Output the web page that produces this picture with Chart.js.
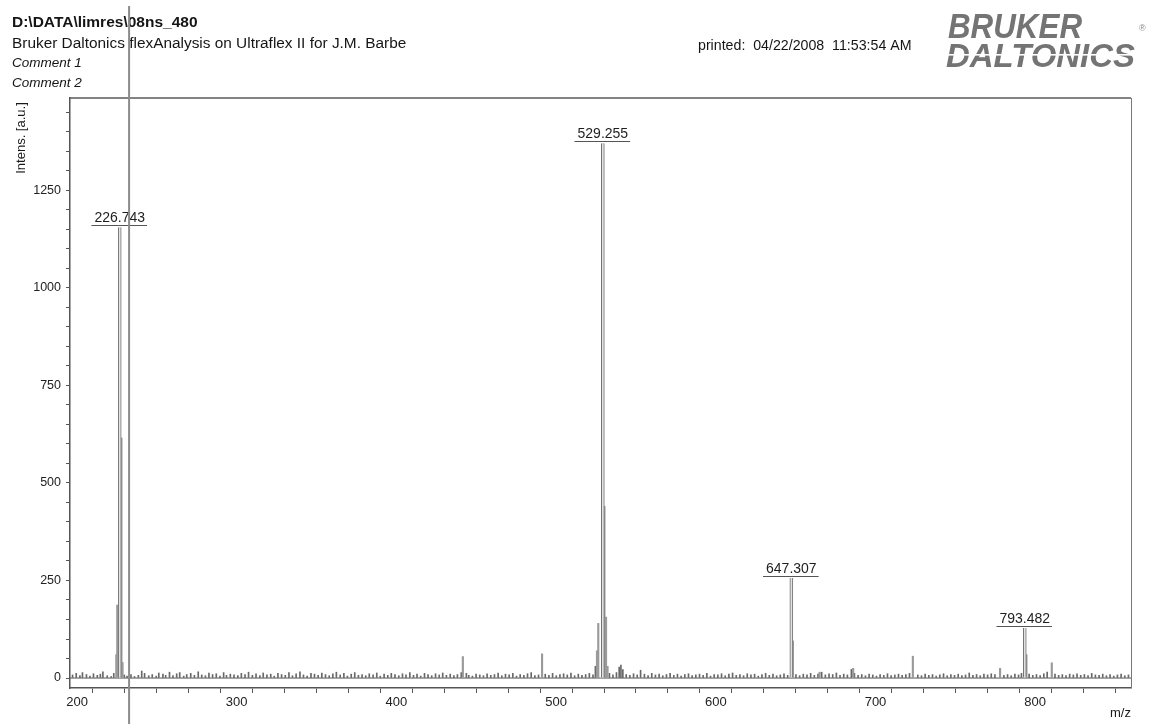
<!DOCTYPE html>
<html>
<head>
<meta charset="utf-8">
<title>08ns_480 mass spectrum</title>
<script src="https://cdn.jsdelivr.net/npm/chart.js@4.4.1/dist/chart.umd.min.js"></script>
<style>
  html, body { margin: 0; padding: 0; background: #ffffff; }
  #wrap { width: 1151px; height: 724px; position: relative; }
  canvas { display: block; }
</style>
</head>
<body>
<div id="wrap"><canvas id="spec" width="1151" height="724"></canvas></div>
<script>
// ---- spectrum data (m/z, intensity in a.u.) ----
const labelledMz  = [226.743, 529.255, 647.307, 793.482];
const labelledInt = [1155, 1370, 256, 128];

const minorMz  = [224.6, 225.2, 226.0, 227.8, 228.5, 441.6, 491.2, 525.6, 526.4, 530.26, 531.26, 532.2, 648.3, 665.0, 686.0, 723.4, 778.0, 794.5, 810.4];
const minorInt = [60, 187, 90, 615, 40, 55, 62, 70, 140, 440, 156, 30, 95, 15, 25, 56, 25, 60, 39];

const noiseMz = [197.2, 199.5, 201.8, 203.4, 205.9, 208.1, 210.3, 212.7, 214.6, 216.2, 218.9, 221.4, 223.0, 229.6, 231.3, 233.8, 236.0, 238.4, 240.5, 242.3,
  244.9, 247.1, 249.6, 251.2, 253.8, 255.5, 257.9, 260.1, 262.4, 264.3, 266.8, 268.7, 271.2, 273.5, 275.9, 278.1, 280.4, 282.6, 284.9, 287.2,
  289.5, 291.8, 293.6, 296.0, 298.3, 300.7, 302.9, 305.2, 307.4, 309.8, 312.1, 314.5, 316.6, 318.9, 321.3, 323.5, 325.8, 328.1, 330.4, 332.7,
  334.9, 337.2, 339.6, 341.8, 344.1, 346.5, 348.7, 351.0, 353.3, 355.6, 357.9, 360.2, 362.4, 364.8, 367.1, 369.3, 371.7, 373.9, 376.2, 378.5,
  380.8, 383.0, 385.4, 387.7, 389.9, 392.3, 394.6, 396.8, 399.1, 401.5, 403.8, 406.0, 408.4, 410.7, 412.9, 415.2, 417.6, 419.8, 422.1, 424.5,
  426.8, 429.0, 431.3, 433.7, 436.0, 438.2, 440.6, 443.8, 445.3, 447.6, 449.9, 452.2, 454.5, 456.8, 459.1, 461.4, 463.7, 466.0, 468.3, 470.6,
  472.9, 475.2, 477.5, 479.8, 482.1, 484.4, 486.7, 489.0, 493.2, 495.5, 497.8, 500.1, 502.4, 504.7, 507.0, 509.3, 511.6, 513.9, 516.2, 518.5,
  520.8, 523.1, 524.6, 533.4, 535.6, 537.8, 539.5, 540.6, 541.8, 543.9, 546.2, 548.5, 550.8, 552.9, 555.3, 557.6, 559.9, 562.2, 564.5, 566.8,
  569.1, 571.4, 573.7, 576.0, 578.3, 580.6, 582.9, 585.2, 587.5, 589.8, 592.1, 594.4, 596.7, 599.0, 601.3, 603.6, 605.9, 608.2, 610.5, 612.8,
  615.1, 617.4, 619.7, 622.0, 624.3, 626.6, 628.9, 631.2, 633.5, 635.8, 638.1, 640.4, 642.7, 645.0, 650.2, 652.5, 654.8, 657.1, 659.4, 661.7,
  664.0, 666.3, 668.6, 670.9, 673.2, 675.5, 677.8, 680.1, 682.4, 684.9, 686.8, 689.1, 691.4, 693.7, 696.0, 698.3, 700.6, 702.9, 705.2, 707.5,
  709.8, 712.1, 714.4, 716.7, 719.0, 721.3, 726.5, 728.8, 731.1, 733.4, 735.7, 738.0, 740.3, 742.6, 744.9, 747.2, 749.5, 751.8, 754.1, 756.4,
  758.7, 761.0, 763.3, 765.6, 767.9, 770.2, 772.5, 774.8, 777.9, 780.4, 782.7, 785.0, 787.3, 789.6, 791.4, 796.2, 798.5, 800.8, 803.1, 805.4,
  807.5, 812.4, 814.7, 817.0, 819.3, 821.6, 823.9, 826.2, 828.5, 830.8, 833.1, 835.4, 837.7, 840.0, 842.3, 844.6, 846.9, 849.2, 851.5, 853.8,
  856.1, 858.4];
const noiseInt = [8, 12, 6, 14, 9, 5, 11, 7, 10, 16, 6, 4, 12, 8, 5, 9, 4, 7, 18, 12,
  6, 9, 5, 13, 10, 7, 15, 6, 11, 14, 5, 9, 12, 7, 16, 8, 6, 13, 9, 11,
  5, 14, 7, 10, 8, 6, 12, 9, 15, 7, 11, 6, 13, 8, 10, 5, 12, 9, 7, 14,
  6, 11, 16, 8, 5, 12, 10, 7, 13, 9, 6, 11, 15, 8, 12, 5, 10, 14, 7, 9,
  6, 11, 8, 13, 5, 10, 7, 12, 9, 6, 11, 8, 14, 7, 10, 5, 12, 9, 6, 11,
  8, 13, 7, 10, 6, 9, 14, 12, 7, 5, 10, 8, 6, 11, 7, 9, 13, 6, 10, 8,
  12, 5, 9, 7, 11, 14, 6, 8, 10, 7, 12, 6, 9, 11, 8, 13, 6, 10, 7, 9,
  12, 8, 30, 12, 8, 14, 28, 33, 22, 9, 7, 11, 8, 20, 10, 6, 12, 8, 10, 6,
  9, 12, 7, 10, 5, 9, 11, 6, 8, 10, 7, 12, 5, 9, 8, 11, 6, 10, 13, 7,
  9, 6, 11, 8, 10, 5, 9, 12, 7, 10, 6, 8, 11, 7, 9, 6, 10, 8, 12, 7,
  10, 15, 8, 11, 9, 13, 7, 10, 8, 22, 12, 7, 9, 6, 10, 8, 5, 9, 7, 11,
  6, 8, 10, 7, 9, 12, 8, 6, 10, 7, 9, 5, 8, 11, 6, 9, 7, 10, 6, 8,
  13, 7, 9, 6, 10, 8, 11, 9, 25, 7, 9, 6, 10, 8, 12, 10, 7, 9, 6, 11,
  15, 10, 7, 9, 6, 10, 8, 11, 7, 9, 6, 12, 8, 7, 10, 6, 9, 5, 8, 10,
  6, 8];

// axis range and ticks
const mzRange  = [195.6, 860];
const intRange = [-25.5, 1486];
const xTicks = [200, 220, 240, 260, 280, 300, 320, 340, 360, 380, 400, 420, 440, 460, 480, 500, 520, 540, 560, 580,
  600, 620, 640, 660, 680, 700, 720, 740, 760, 780, 800, 820, 840, 860];
const xTickLabels = [200, 300, 400, 500, 600, 700, 800];
const yTicks = [0, 50, 100, 150, 200, 250, 300, 350, 400, 450, 500, 550, 600, 650, 700, 750, 800, 850, 900, 950,
  1000, 1050, 1100, 1150, 1200, 1250, 1300, 1350, 1400, 1450];
const yTickLabels = [0, 250, 500, 750, 1000, 1250];

// cursor position left on the trace (m/z)
const cursorMz = 232.6;

const toPoints = (xs, ys) => xs.map((x, i) => ({ x: x, y: ys[i] }));

const FONT = "'Liberation Sans', Arial, Helvetica, sans-serif";
Chart.defaults.font.family = FONT;

// header, logo, axis titles, frame, peak annotations
const decorations = {
  id: 'decorations',
  beforeDraw(chart) {
    const c = chart.ctx;
    c.save();
    c.fillStyle = '#ffffff';
    c.fillRect(0, 0, chart.width, chart.height);
    c.restore();
  },
  afterDraw(chart) {
    const c = chart.ctx;
    const xs = chart.scales.x, ys = chart.scales.y;
    const a = chart.chartArea;
    c.save();

    // frame: top and right edges of the plot box
    c.strokeStyle = '#5a5a5a';
    c.lineWidth = 1.5;
    c.beginPath();
    c.moveTo(a.left, a.top);
    c.lineTo(a.right, a.top);
    c.stroke();
    c.lineWidth = 1;
    c.strokeStyle = '#777';
    c.beginPath();
    c.moveTo(a.right + 0.5, a.top);
    c.lineTo(a.right + 0.5, a.bottom);
    c.stroke();

    // header text
    c.fillStyle = '#151515';
    c.textBaseline = 'alphabetic';
    c.textAlign = 'left';
    c.font = 'bold 15.5px ' + FONT;
    c.fillText('D:\\DATA\\limres\\08ns_480', 12, 27);
    c.font = '15.4px ' + FONT;
    c.fillText('Bruker Daltonics flexAnalysis on Ultraflex II for J.M. Barbe', 12, 48);
    c.font = '14.2px ' + FONT;
    c.fillText('printed:  04/22/2008  11:53:54 AM', 698, 50);
    c.font = 'italic 13.5px ' + FONT;
    c.fillText('Comment 1', 12, 67);
    c.fillText('Comment 2', 12, 87);

    // logo
    c.fillStyle = '#747474';
    c.font = 'italic bold 35px ' + FONT;
    let w = c.measureText('BRUKER').width;
    c.save();
    c.translate(948, 38);
    c.scale(134 / w, 1);
    c.fillText('BRUKER', 0, 0);
    c.restore();
    c.font = 'italic bold 33px ' + FONT;
    w = c.measureText('DALTONICS').width;
    c.save();
    c.translate(946, 67);
    c.scale(189 / w, 1);
    c.fillText('DALTONICS', 0, 0);
    c.restore();
    c.fillStyle = '#ffffff';
    c.fillRect(944, 54, 194, 1.6);
    c.fillStyle = '#8a8a8a';
    c.font = '9px ' + FONT;
    c.fillText('\u00AE', 1139, 31);

    // axis titles
    c.fillStyle = '#1a1a1a';
    c.font = '13px ' + FONT;
    c.save();
    c.translate(25, 138);
    c.rotate(-Math.PI / 2);
    c.textAlign = 'center';
    c.fillText('Intens. [a.u.]', 0, 0);
    c.restore();
    c.textAlign = 'left';
    c.fillText('m/z', 1110, 717);

    // peak annotations with underline
    c.font = '14px ' + FONT;
    c.textAlign = 'center';
    labelledMz.forEach((mz, i) => {
      const px = xs.getPixelForValue(mz);
      const py = ys.getPixelForValue(labelledInt[i]);
      const txt = mz.toFixed(3);
      const tw = c.measureText(txt).width;
      c.fillStyle = '#1e1e1e';
      c.fillText(txt, px, py - 5);
      c.strokeStyle = '#555';
      c.lineWidth = 1;
      c.beginPath();
      c.moveTo(px - tw / 2 - 3, Math.round(py - 2) + 0.5);
      c.lineTo(px + tw / 2 + 2, Math.round(py - 2) + 0.5);
      c.stroke();
    });

    // cursor line across the printout
    const cx = xs.getPixelForValue(cursorMz);
    c.strokeStyle = '#8c8c8c';
    c.lineWidth = 2;
    c.beginPath();
    c.moveTo(cx, 6);
    c.lineTo(cx, chart.height);
    c.stroke();
    c.restore();
  }
};

new Chart(document.getElementById('spec'), {
  type: 'bar',
  data: {
    datasets: [
      {
        label: 'labelled peaks',
        data: toPoints(labelledMz, labelledInt),
        backgroundColor: '#e2e2e2',
        borderColor: '#707070',
        borderWidth: { left: 1, right: 1, top: 0, bottom: 0 },
        barThickness: 3,
        grouped: false,
        order: 0
      },
      {
        label: 'minor peaks',
        data: toPoints(minorMz, minorInt),
        backgroundColor: '#9a9a9a',
        barThickness: 1.5,
        grouped: false,
        order: 1
      },
      {
        label: 'baseline noise',
        data: toPoints(noiseMz, noiseInt),
        backgroundColor: '#686868',
        barThickness: 1,
        grouped: false,
        order: 2
      },
      {
        type: 'line',
        label: 'baseline',
        data: toPoints(mzRange, [0, 0]),
        borderColor: '#555',
        borderWidth: 1,
        pointRadius: 0,
        order: 3
      }
    ]
  },
  options: {
    responsive: false,
    animation: false,
    events: [],
    layout: { padding: { top: 98, right: 20, left: 0, bottom: 0 } },
    plugins: { legend: { display: false }, tooltip: { enabled: false } },
    scales: {
      x: {
        type: 'linear',
        min: mzRange[0],
        max: mzRange[1],
        offset: false,
        afterBuildTicks: s => { s.ticks = xTicks.map(v => ({ value: v })); },
        afterFit: s => { s.height = 36; },
        grid: { drawOnChartArea: false, drawTicks: true, tickLength: 5, color: '#555' },
        border: { display: true, color: '#555', width: 1.5 },
        ticks: {
          autoSkip: false,
          maxRotation: 0,
          padding: 2,
          color: '#222',
          font: { size: 13 },
          callback: v => (xTickLabels.includes(v) ? String(v) : '')
        }
      },
      y: {
        type: 'linear',
        min: intRange[0],
        max: intRange[1],
        afterBuildTicks: s => { s.ticks = yTicks.map(v => ({ value: v })); },
        afterFit: s => { s.width = 70; },
        grid: { drawOnChartArea: false, drawTicks: true, tickLength: 4, color: '#555' },
        border: { display: true, color: '#555', width: 1.5 },
        ticks: {
          autoSkip: false,
          padding: 5,
          color: '#222',
          font: { size: 12.5 },
          callback: v => (yTickLabels.includes(v) ? String(v) : '')
        }
      }
    }
  },
  plugins: [decorations]
});
</script>
</body>
</html>
